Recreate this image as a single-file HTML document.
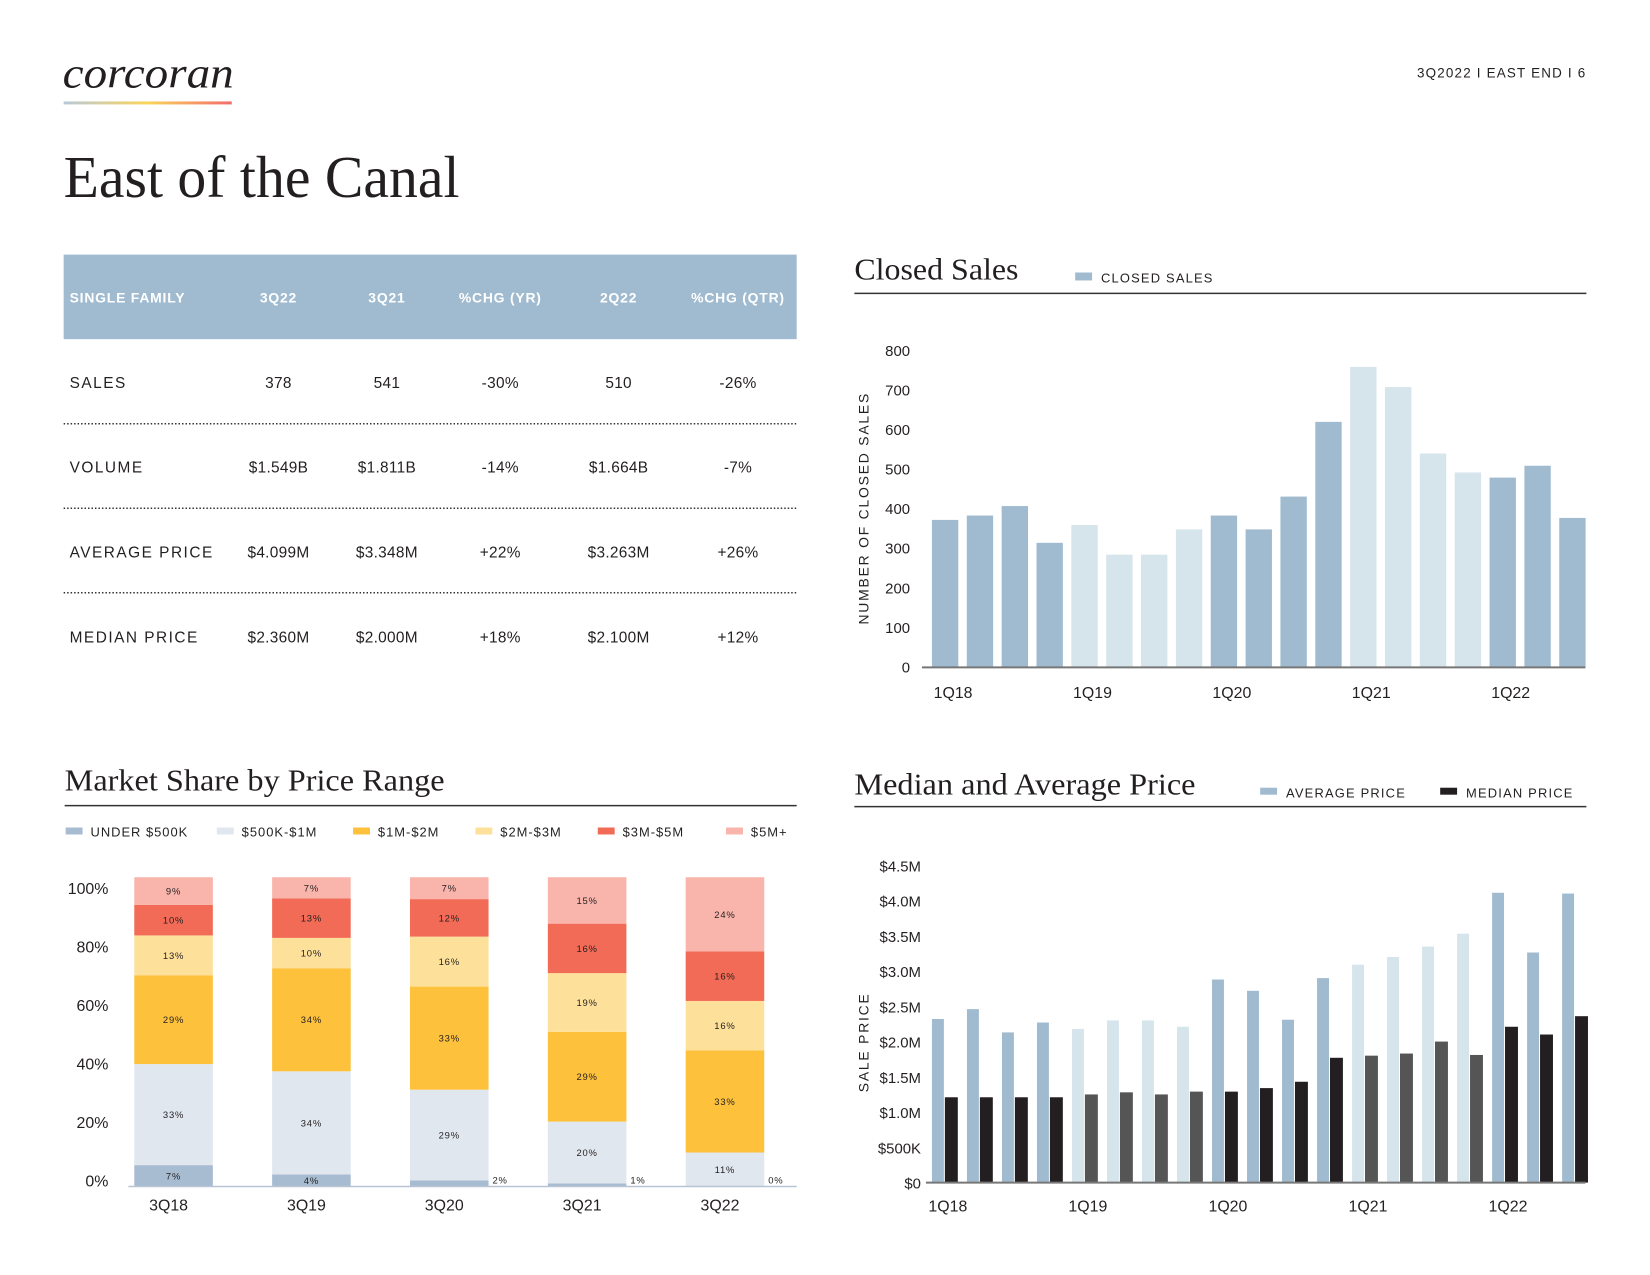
<!DOCTYPE html>
<html><head><meta charset="utf-8"><style>
html,body{margin:0;padding:0;background:#fff;}
svg{display:block;font-family:"Liberation Sans",sans-serif;}
</style></head><body>
<svg id="page" width="1650" height="1275" viewBox="0 0 1650 1275" xmlns="http://www.w3.org/2000/svg">
<defs><linearGradient id="lg" x1="0" x2="1"><stop offset="0" stop-color="#b7c9d8"/><stop offset="0.5" stop-color="#fbd45a"/><stop offset="1" stop-color="#f26b6b"/></linearGradient></defs>
<g transform="scale(0.9946)">
<text x="63" y="88" font-family="Liberation Serif, serif" font-style="italic" font-size="44" fill="#231f20" textLength="172" lengthAdjust="spacingAndGlyphs">corcoran</text>
<rect x="64" y="102" width="169" height="3" fill="url(#lg)"/>
<text x="1595" y="78" text-anchor="end" font-size="13.5" letter-spacing="1.2" fill="#231f20">3Q2022  I  EAST END  I  6</text>
<text x="64" y="198" font-family="Liberation Serif, serif" font-size="60" fill="#231f20" textLength="398" lengthAdjust="spacingAndGlyphs">East of the Canal</text>
<g id="table"></g>
<g id="closed"></g>
<g id="share"></g>
<g id="price"></g>
</g>
</svg>
<script>
const NS="http://www.w3.org/2000/svg";
function mk(parent,tag,attrs,txt){const e=document.createElementNS(NS,tag);for(const k in attrs)e.setAttribute(k,attrs[k]);if(txt!==undefined)e.textContent=txt;parent.appendChild(e);return e;}

// ---------- TABLE ----------
const tableHeaders=["SINGLE FAMILY","3Q22","3Q21","%CHG (YR)","2Q22","%CHG (QTR)"];
const tableRows=[
 ["SALES","378","541","-30%","510","-26%"],
 ["VOLUME","$1.549B","$1.811B","-14%","$1.664B","-7%"],
 ["AVERAGE PRICE","$4.099M","$3.348M","+22%","$3.263M","+26%"],
 ["MEDIAN PRICE","$2.360M","$2.000M","+18%","$2.100M","+12%"]];
const T=document.getElementById('table');
const colX=[70,280,389,503,622,742];
let hb=mk(T,'rect',{x:64,y:256,width:737,height:85,fill:'#a0bbd0'});


tableHeaders.forEach((h,i)=>{
 const t=mk(T,'text',{x:colX[i],y:304,'text-anchor':i?'middle':'start','font-size':14,'font-weight':'bold',fill:'#fff','letter-spacing':0.8},h);
 
 
});
tableRows.forEach((r,ri)=>{
 const y=390+ri*85.3;
 r.forEach((c,i)=>{
  const t=mk(T,'text',{x:colX[i],y:y,'text-anchor':i?'middle':'start','font-size':15.5,fill:'#231f20','letter-spacing':i?0.3:1.5},c);
  
  
 });
 if(ri<3){const l=mk(T,'line',{x1:64,x2:801,y1:426+ri*85,y2:426+ri*85,stroke:'#333','stroke-width':1.5,'stroke-dasharray':'1.5 2'});
  
  }
});

// ---------- CLOSED SALES ----------
const csValues=[373,384,408,315,360,285,285,349,384,349,432,621,760,709,541,493,480,510,378];
const csLabels=["1Q18","1Q19","1Q20","1Q21","1Q22"];
const csTicks=[0,100,200,300,400,500,600,700,800];
const DARK='#a0bbd0',LIGHT='#d6e4ec';
const C=document.getElementById('closed');
(function(){
 const x0=937,step=35.04,bw=26.5,yb=671,yt=353,max=800;
 const ys=v=>yb-(v/max)*(yb-yt);
 let t=mk(C,'text',{x:859,y:281,'font-family':'Liberation Serif, serif','font-size':31,fill:'#231f20',textLength:165,lengthAdjust:'spacingAndGlyphs'},'Closed Sales');
 
 
 let r=mk(C,'rect',{x:1081,y:274,width:17,height:8,fill:DARK});
 
 
 t=mk(C,'text',{x:1107,y:284,'font-size':13,'letter-spacing':1.2,fill:'#231f20'},'CLOSED SALES');
 
 
 let l=mk(C,'line',{x1:859,x2:1595,y1:295,y2:295,stroke:'#333','stroke-width':1.5});
 
 
 csTicks.forEach(v=>{const e=mk(C,'text',{x:915,y:ys(v)+5,'text-anchor':'end','font-size':15,fill:'#231f20'},v);
  
  });
 csValues.forEach((v,i)=>{const yr=Math.floor(i/4);
  const b=mk(C,'rect',{x:x0+i*step,y:ys(v),width:bw,height:yb-ys(v),fill:yr%2?LIGHT:DARK});
  
  });
 l=mk(C,'line',{x1:927,x2:1594,y1:yb,y2:yb,stroke:'#777','stroke-width':2});
 
 
 csLabels.forEach((s,i)=>{const e=mk(C,'text',{x:x0+i*4*step+bw/2+8,y:702,'text-anchor':'middle','font-size':16,fill:'#231f20'},s);
  
  });
 t=mk(C,'text',{x:0,y:0,transform:'translate(873,511) rotate(-90)','text-anchor':'middle','font-size':14,'letter-spacing':1.8,fill:'#231f20'},'NUMBER OF CLOSED SALES');
 
 
})();

// ---------- MARKET SHARE ----------
const msCats=["3Q18","3Q19","3Q20","3Q21","3Q22"];
const msUnder500k=[7,4,2,1,0];
const ms500k1m=[33,34,29,20,11];
const ms1m2m=[29,34,33,29,33];
const ms2m3m=[13,10,16,19,16];
const ms3m5m=[10,13,12,16,16];
const ms5m=[9,7,7,15,24];
const msNames=["UNDER $500K","$500K-$1M","$1M-$2M","$2M-$3M","$3M-$5M","$5M+"];
const msTicks=[0,20,40,60,80,100];
const msColors=['#a8bcd1','#e1e7ef','#fdc13c','#fde09a','#f26b56','#f9b5ab'];
const S=document.getElementById('share');
(function(){
 const series=[msUnder500k,ms500k1m,ms1m2m,ms2m3m,ms3m5m,ms5m];
 const x0=135,step=138.6,bw=79,yb=1193,yt=882;
 let t=mk(S,'text',{x:65,y:795,'font-family':'Liberation Serif, serif','font-size':31,fill:'#231f20',textLength:382,lengthAdjust:'spacingAndGlyphs'},'Market Share by Price Range');
 
 
 let l=mk(S,'line',{x1:65,x2:801,y1:810,y2:810,stroke:'#333','stroke-width':1.5});
 
 
 const lgX=[66,218,355,478,601,730];
 msNames.forEach((n,i)=>{
  const r=mk(S,'rect',{x:lgX[i],y:832,width:17,height:7,fill:msColors[i]});
  
  
  const e=mk(S,'text',{x:lgX[i]+25,y:841,'font-size':13,'letter-spacing':1,fill:'#231f20'},n);
  
  
 });
 msTicks.forEach(v=>{const e=mk(S,'text',{x:109,y:893+(100-v)/100*294+6,'text-anchor':'end','font-size':16,fill:'#231f20'},v+'%');
  
  });
 msCats.forEach((c,ci)=>{
  let tot=0;series.forEach(s=>tot+=s[ci]);
  let acc=0;const x=x0+ci*step;
  series.forEach((s,si)=>{
   const v=s[ci];const y1=yb-(acc/tot)*(yb-yt);acc+=v;const y2=yb-(acc/tot)*(yb-yt);
   const b=mk(S,'rect',{x:x,y:y2,width:bw,height:y1-y2,fill:msColors[si]});
   
   
   let lx=x+bw/2,ly=(y1+y2)/2+3.5,anc='middle';
   if(v<3&&si==0){lx=x+bw+4;ly=yb-3;anc='start';}
   const e=mk(S,'text',{x:lx,y:ly,'text-anchor':anc,'font-size':9.5,'letter-spacing':0.8,fill:'#231f20'},v+'%');
   
   
  });
  const e=mk(S,'text',{x:x+bw/2-5,y:1217,'text-anchor':'middle','font-size':16,fill:'#231f20'},c);
  
  
 });
 l=mk(S,'line',{x1:129,x2:801,y1:yb,y2:yb,stroke:'#b8c4d2','stroke-width':1.5});
 
 
})();

// ---------- PRICE ----------
const prAvg=[2.32,2.46,2.13,2.27,2.18,2.30,2.30,2.21,2.88,2.72,2.31,2.90,3.09,3.20,3.348,3.53,4.11,3.263,4.099];
const prMed=[1.21,1.21,1.21,1.21,1.25,1.28,1.25,1.29,1.29,1.34,1.43,1.77,1.80,1.83,2.00,1.81,2.21,2.10,2.36];
const prLabels=["1Q18","1Q19","1Q20","1Q21","1Q22"];
const prTicks=[0,0.5,1,1.5,2,2.5,3,3.5,4,4.5];
const prTickText=["$0","$500K","$1.0M","$1.5M","$2.0M","$2.5M","$3.0M","$3.5M","$4.0M","$4.5M"];
const P=document.getElementById('price');
(function(){
 const x0=937,step=35.2,bw=12,yb=1189,yt=870,max=4.5;
 const ys=v=>yb-(v/max)*(yb-yt);
 let t=mk(P,'text',{x:859,y:799,'font-family':'Liberation Serif, serif','font-size':31,fill:'#231f20',textLength:343,lengthAdjust:'spacingAndGlyphs'},'Median and Average Price');
 
 
 let r=mk(P,'rect',{x:1267,y:792,width:17,height:7,fill:DARK});
 
 
 t=mk(P,'text',{x:1293,y:802,'font-size':13,'letter-spacing':1.2,fill:'#231f20'},'AVERAGE PRICE');
 
 
 r=mk(P,'rect',{x:1448,y:792,width:17,height:7,fill:'#231f20'});
 
 
 t=mk(P,'text',{x:1474,y:802,'font-size':13,'letter-spacing':1.2,fill:'#231f20'},'MEDIAN PRICE');
 
 
 let l=mk(P,'line',{x1:859,x2:1595,y1:811,y2:811,stroke:'#333','stroke-width':1.5});
 
 
 prTicks.forEach((v,i)=>{const e=mk(P,'text',{x:926,y:ys(v)+6,'text-anchor':'end','font-size':15,fill:'#231f20'},prTickText[i]);
  
  });
 prAvg.forEach((v,i)=>{const yr=Math.floor(i/4)%2;const x=x0+i*step;
  const a=mk(P,'rect',{x:x,y:ys(v),width:bw,height:yb-ys(v),fill:yr?LIGHT:DARK});
  
  
  const m=prMed[i];
  const b=mk(P,'rect',{x:x+bw+1,y:ys(m),width:bw+1,height:yb-ys(m),fill:yr?'#555555':'#231f20'});
  
  });
 l=mk(P,'line',{x1:931,x2:1594,y1:yb,y2:yb,stroke:'#777','stroke-width':2});
 
 
 prLabels.forEach((s,i)=>{const e=mk(P,'text',{x:x0+i*4*step+16,y:1218,'text-anchor':'middle','font-size':16,fill:'#231f20'},s);
  
  });
 t=mk(P,'text',{x:0,y:0,transform:'translate(873,1048) rotate(-90)','text-anchor':'middle','font-size':14,'letter-spacing':1.8,fill:'#231f20'},'SALE PRICE');
 
 
})();
</script>
</body></html>
